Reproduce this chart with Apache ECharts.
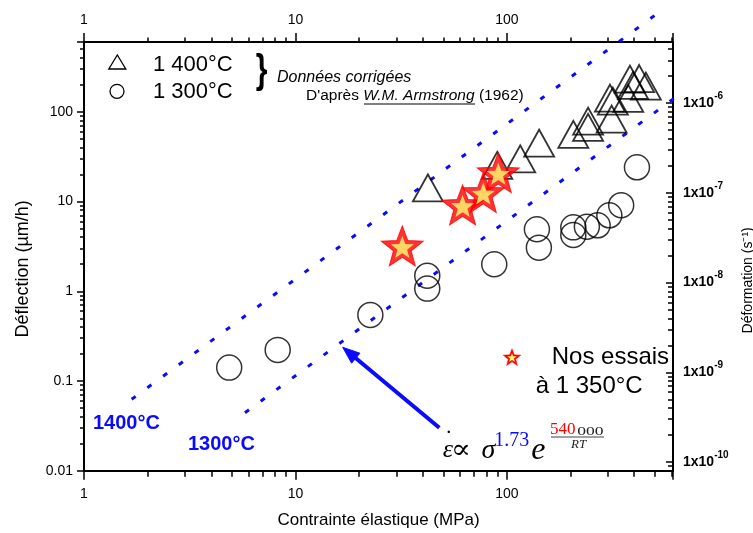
<!DOCTYPE html>
<html>
<head>
<meta charset="utf-8">
<script src="https://cdn.jsdelivr.net/npm/echarts@6/dist/echarts.min.js"></script>
<style>
html,body{margin:0;padding:0;background:#fff;}
#chart{width:753px;height:533px;}
</style>
</head>
<body>
<div id="chart"></div>
<script>
// ---------------- data ----------------
const xTickValues = [1, 10, 100];
const xTickLabels = ['1', '10', '100'];
const yTickValues = [0.01, 0.1, 1, 10, 100];
const yTickLabels = ['0.01', '0.1', '1', '10', '100'];
const strainTickValues = [1e-10, 1e-9, 1e-8, 1e-7, 1e-6];
const strainTickExponents = ['-10', '-9', '-8', '-7', '-6'];

// Armstrong (1962), 1 400°C : [stress MPa, deflection µm/h]
const armstrong1400 = [
  [42.3, 14.2], [90, 25.3], [115.6, 29.9], [142, 44.8], [206, 56],
  [242, 78.7], [242, 67], [312.7, 83], [307, 142], [317, 131.5],
  [374.7, 141], [381.6, 231], [422, 235], [395, 197], [454, 193]
];
// Armstrong (1962), 1 300°C
const armstrong1300 = [
  [4.86, 0.141], [8.24, 0.222], [22.6, 0.544], [42, 1.49], [42, 1.07],
  [87.1, 2.0], [138.6, 4.91], [141.6, 3.06], [206, 5.16], [206, 4.25],
  [238.8, 5.25], [268.5, 5.44], [305, 7.03], [347, 9.1], [412, 24.1]
];
// Nos essais à 1 350°C
const nosEssais1350 = [[32, 3.2], [61.7, 9.16], [77.3, 12.6], [91, 21.0]];
// Power-law fits (slope 1.73), end points
const fit1400 = [[1.68, 0.0625], [506, 1213]];
const fit1300 = [[5.77, 0.0443], [707, 178.6]];

// ---------------- styling helpers ----------------
const FONT = "'Liberation Sans', Arial, sans-serif";
const SERIF = "'Liberation Serif', 'Times New Roman', serif";
const BLUE = '#0a0aff';

function starPoints(cx, cy, R, ratio) {
  const pts = [];
  for (let k = 0; k < 10; k++) {
    const a = -Math.PI / 2 + k * Math.PI / 5;
    const r = (k % 2) ? R * ratio : R;
    pts.push([cx + r * Math.cos(a), cy + r * Math.sin(a)]);
  }
  return pts;
}
const STAR_PATH = 'path://' + starPoints(0, 0, 100, 0.42)
  .map((p, i) => (i ? 'L' : 'M') + p[0].toFixed(2) + ' ' + p[1].toFixed(2)).join(' ') + ' Z';

function matchTick(values, v) {
  for (let i = 0; i < values.length; i++) {
    if (Math.abs(Math.log10(v) - Math.log10(values[i])) < 1e-6) return i;
  }
  return -1;
}
const fmtX = v => { const i = matchTick(xTickValues, v); return i < 0 ? '' : xTickLabels[i]; };
const fmtY = v => { const i = matchTick(yTickValues, v); return i < 0 ? '' : yTickLabels[i]; };
const fmtStrain = v => { const i = matchTick(strainTickValues, v); return i < 0 ? '' : '{a|1x10}{b|' + strainTickExponents[i] + '}'; };

const axisLineStyle = { color: '#000', width: 2 };
const tickLine = { color: '#000', width: 1.5 };
const labelStyle = { color: '#000', fontSize: 14, fontFamily: FONT };

function txt(x, y, text, font, fill, align, extra) {
  return Object.assign({
    type: 'text', x: x, y: y, silent: true,
    style: { text: text, font: font, fill: fill || '#000',
      align: align || 'left', textAlign: align || 'left',
      verticalAlign: 'middle', textVerticalAlign: 'middle' }
  }, extra || {});
}

const chart = echarts.init(document.getElementById('chart'), null, { renderer: 'canvas' });

const option = {
  animation: false,
  backgroundColor: '#fff',
  grid: { left: 84, right: 80, top: 42, bottom: 62.3, containLabel: false, outerBoundsMode: 'none' },
  xAxis: [
    {
      type: 'log', logBase: 10, min: 1, max: 610, position: 'bottom',
      name: 'Contrainte élastique (MPa)', nameLocation: 'middle', nameGap: 41,
      nameTextStyle: { color: '#000', fontSize: 17, fontFamily: FONT },
      axisLine: { show: true, lineStyle: axisLineStyle },
      axisTick: { show: true, length: 9, lineStyle: tickLine },
      minorTick: { show: true, splitNumber: 9, length: 6, lineStyle: tickLine },
      axisLabel: Object.assign({ margin: 16, formatter: fmtX, showMinLabel: true, showMaxLabel: true, hideOverlap: false }, labelStyle),
      splitLine: { show: false }, minorSplitLine: { show: false }
    },
    {
      type: 'log', logBase: 10, min: 1, max: 610, position: 'top',
      axisLine: { show: true, lineStyle: axisLineStyle },
      axisTick: { show: true, length: 9, lineStyle: tickLine },
      minorTick: { show: true, splitNumber: 9, length: 4.5, lineStyle: tickLine },
      axisLabel: Object.assign({ margin: 15, formatter: fmtX, hideOverlap: false }, labelStyle),
      splitLine: { show: false }, minorSplitLine: { show: false }
    }
  ],
  yAxis: [
    {
      type: 'log', logBase: 10, min: 0.01, max: 600, position: 'left',
      name: 'Déflection (µm/h)', nameLocation: 'middle', nameGap: 52,
      nameTextStyle: { color: '#000', fontSize: 18, fontFamily: FONT, padding: [0, 25, 0, 0] },
      axisLine: { show: true, lineStyle: axisLineStyle },
      axisTick: { show: true, length: 7, lineStyle: tickLine },
      minorTick: { show: true, splitNumber: 9, length: 4, lineStyle: tickLine },
      axisLabel: Object.assign({ margin: 11, formatter: fmtY, hideOverlap: false }, labelStyle),
      splitLine: { show: false }, minorSplitLine: { show: false }
    },
    {
      type: 'log', logBase: 10, min: 8e-11, max: 4.8e-6, position: 'right',
      name: 'Déformation (s\u207B\u00B9)', nameLocation: 'middle', nameGap: 68,
      nameTextStyle: { color: '#000', fontSize: 14, fontFamily: FONT, padding: [0, 48, 0, 0] },
      axisLine: { show: true, lineStyle: axisLineStyle },
      axisTick: { show: true, inside: true, length: 7, lineStyle: tickLine },
      minorTick: { show: true, splitNumber: 9, length: 5, lineStyle: tickLine },
      axisLabel: {
        margin: 10, formatter: fmtStrain, hideOverlap: false,
        rich: {
          a: { fontSize: 14, fontWeight: 'bold', fontFamily: FONT, color: '#000', lineHeight: 24 },
          b: { fontSize: 10, fontWeight: 'bold', fontFamily: FONT, color: '#000', lineHeight: 8, verticalAlign: 'top' }
        }
      },
      splitLine: { show: false }, minorSplitLine: { show: false }
    }
  ],
  series: [
    {
      name: '1400°C (loi)', type: 'line', data: fit1400, xAxisIndex: 0, yAxisIndex: 0,
      symbol: 'none', clip: false, silent: true, z: 2,
      lineStyle: { color: BLUE, width: 3, type: [5, 14.5], cap: 'butt' }
    },
    {
      name: '1300°C (loi)', type: 'line', data: fit1300, xAxisIndex: 0, yAxisIndex: 0,
      symbol: 'none', clip: false, silent: true, z: 2,
      lineStyle: { color: BLUE, width: 3, type: [5, 14.5], cap: 'butt' }
    },
    {
      name: '1 400°C', type: 'scatter', data: armstrong1400, xAxisIndex: 0, yAxisIndex: 0,
      symbol: 'triangle', symbolSize: [30, 27], silent: true, z: 3,
      itemStyle: { color: 'rgba(0,0,0,0)', borderColor: '#000', borderWidth: 1.8 }
    },
    {
      name: '1 300°C', type: 'scatter', data: armstrong1300, xAxisIndex: 0, yAxisIndex: 0,
      symbol: 'circle', symbolSize: 25, silent: true, z: 3,
      itemStyle: { color: 'rgba(0,0,0,0)', borderColor: '#000', borderWidth: 1.5 }
    },
    {
      name: 'Nos essais à 1 350°C', type: 'scatter', data: nosEssais1350, xAxisIndex: 0, yAxisIndex: 0,
      symbol: STAR_PATH, symbolSize: [42, 40], silent: true, z: 5,
      itemStyle: { color: '#ff0000', borderColor: '#ff0000', borderWidth: 1 }
    },
    {
      name: 'Nos essais (centre)', type: 'scatter', data: nosEssais1350, xAxisIndex: 0, yAxisIndex: 0,
      symbol: STAR_PATH, symbolSize: [23, 22], symbolOffset: [0, 1], silent: true, z: 6,
      itemStyle: { color: '#ffff70' }
    }
  ],
  graphic: [
    // legend (top-left)
    { type: 'polygon', silent: true, shape: { points: [[117.3, 55], [108.8, 69], [125.8, 69]] },
      style: { fill: 'none', stroke: '#000', lineWidth: 1.3 } },
    { type: 'circle', silent: true, shape: { cx: 117, cy: 91.3, r: 7 },
      style: { fill: 'none', stroke: '#000', lineWidth: 1.3 } },
    txt(153, 65, '1 400°C', '22px ' + FONT),
    txt(153, 91.7, '1 300°C', '22px ' + FONT),
    txt(261.5, 72, '}', 'bold 40px ' + FONT, '#000', 'center', { scaleX: 0.75 }),
    txt(277, 78, 'Données corrigées', 'italic 16px ' + FONT),
    {
      type: 'text', x: 306, y: 96, silent: true,
      style: {
        text: "{n|D'après }{i|W.M. Armstrong}{n| (1962)}",
        align: 'left', textAlign: 'left', verticalAlign: 'middle', textVerticalAlign: 'middle',
        rich: {
          n: { fontSize: 15.5, fontFamily: FONT, fill: '#000', color: '#000' },
          i: { fontSize: 15.5, fontFamily: FONT, fontStyle: 'italic', fill: '#000', color: '#000' }
        }
      }
    },
    { type: 'line', silent: true, shape: { x1: 364, y1: 104, x2: 475, y2: 104 },
      style: { stroke: '#000', lineWidth: 1.2 } },
    // fit labels
    txt(93, 423, '1400°C', 'bold 20px ' + FONT, BLUE),
    txt(188, 444, '1300°C', 'bold 20px ' + FONT, BLUE),
    // arrow
    { type: 'line', silent: true, shape: { x1: 352, y1: 355, x2: 439.3, y2: 427.7 },
      style: { stroke: BLUE, lineWidth: 4 } },
    { type: 'polygon', silent: true, shape: { points: [[342.7, 347.3], [351.6, 363.2], [359.9, 353.2]] },
      style: { fill: BLUE, stroke: BLUE, lineWidth: 1 } },
    // formula
    txt(447.8, 450.5, 'ε', 'italic 26px ' + SERIF, '#000', 'center'),
    txt(448.8, 440, '˙', '24px ' + SERIF, '#000', 'center'),
    txt(461, 450.5, '∝', "19px 'DejaVu Serif', serif", '#000', 'center', { scaleX: 1.55, scaleY: 1.45 }),
    txt(488.3, 450.7, 'σ', 'italic 28px ' + SERIF, '#000', 'center'),
    txt(511.7, 440.3, '1.73', '20px ' + SERIF, BLUE, 'center'),
    txt(538.3, 451, 'e', 'italic 32px ' + SERIF, '#000', 'center'),
    { type: 'line', silent: true, shape: { x1: 551, y1: 437, x2: 604, y2: 437 },
      style: { stroke: '#444', lineWidth: 1.2 } },
    txt(562.8, 429.2, '540', '17px ' + SERIF, '#ff0000', 'center'),
    txt(590.3, 431.5, '000', '13px ' + SERIF, '#222', 'center', { scaleX: 1.35 }),
    txt(578.7, 444.2, 'RT', 'italic 13px ' + SERIF, '#222', 'center'),
    // "Nos essais" annotation
    { type: 'polygon', silent: true, shape: { points: starPoints(512, 358, 9.2, 0.42) },
      style: { fill: '#ff0000', stroke: '#ff0000', lineWidth: 0.5 } },
    { type: 'polygon', silent: true, shape: { points: starPoints(512, 358, 4.8, 0.42) },
      style: { fill: '#ffff70' } },
    txt(551.7, 357, 'Nos essais', '24px ' + FONT),
    txt(535.7, 386, 'à 1 350°C', '24px ' + FONT)
  ]
};
chart.setOption(option);
</script>
</body>
</html>
